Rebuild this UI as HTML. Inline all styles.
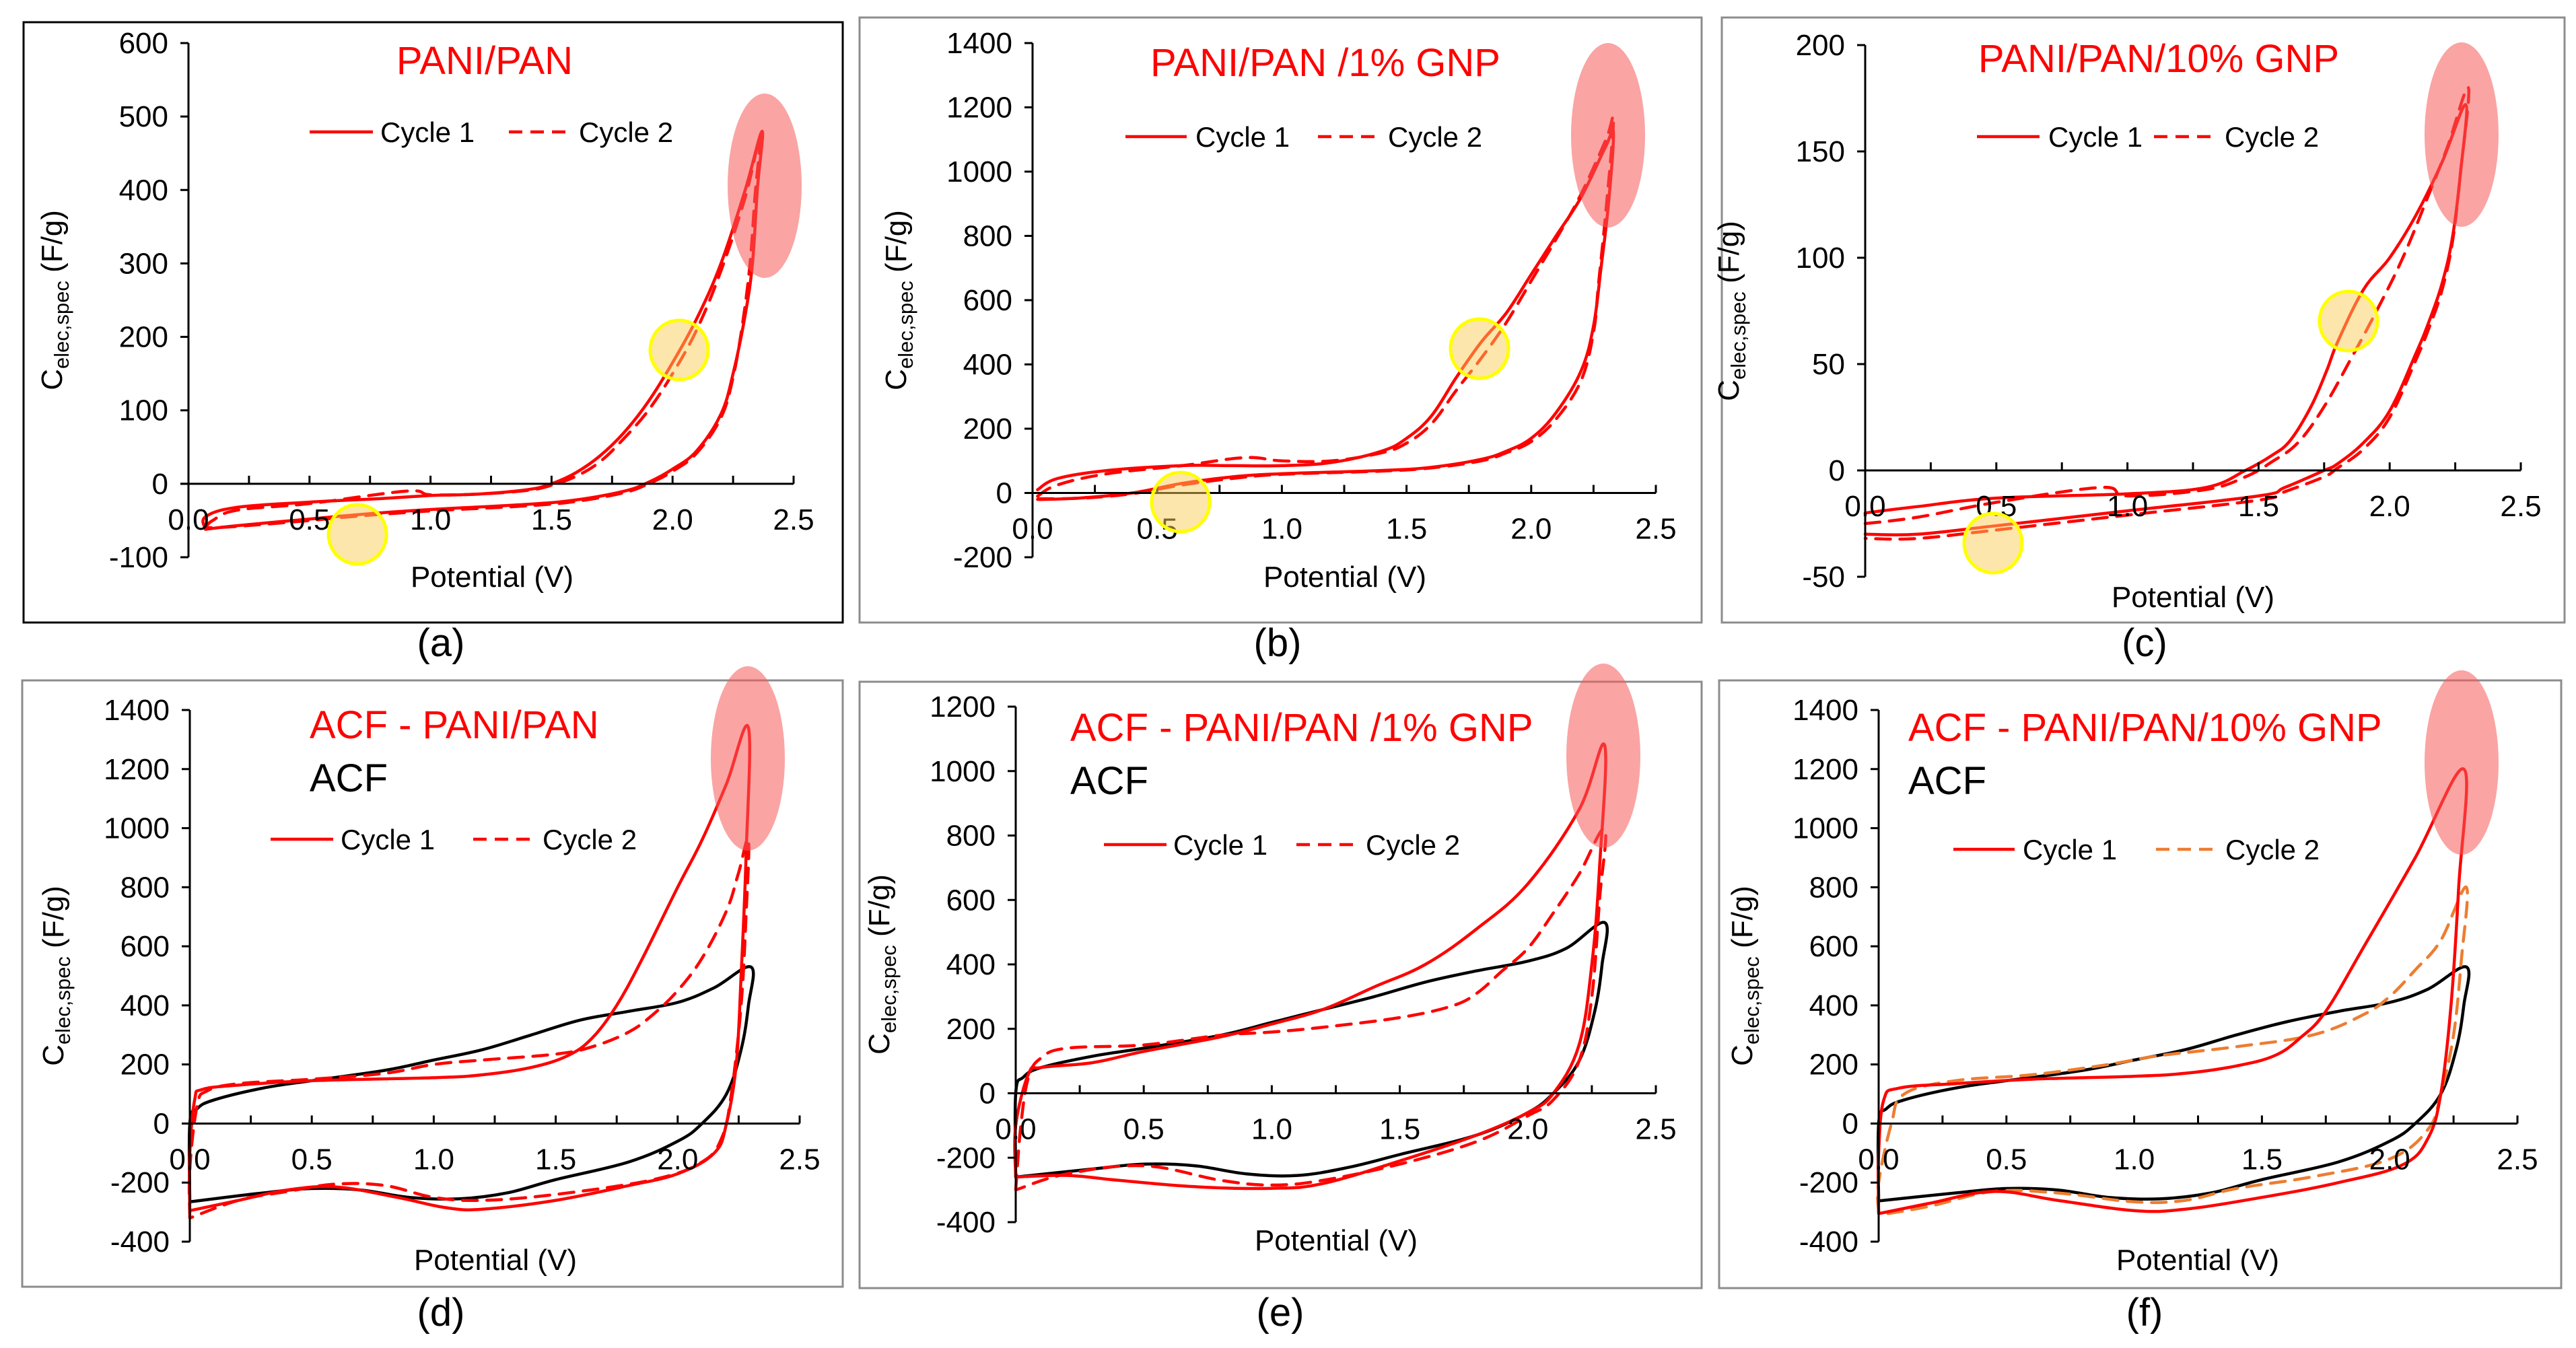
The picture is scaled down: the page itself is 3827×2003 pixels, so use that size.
<!DOCTYPE html>
<html><head><meta charset="utf-8">
<style>
html,body{margin:0;padding:0;background:#fff;}
svg{display:block;font-family:"Liberation Sans",Arial,sans-serif;}
</style></head>
<body>
<svg id="fig" width="3827" height="2003" viewBox="0 0 3827 2003" xmlns="http://www.w3.org/2000/svg">
<rect x="0" y="0" width="3827" height="2003" fill="#fff"/>
</svg>
<script>
// ---------- data (Potential V, C F/g) ----------
const xTicks = [0.0, 0.5, 1.0, 1.5, 2.0, 2.5];
const xTickLabels = ["0.0","0.5","1.0","1.5","2.0","2.5"];
const aYTicks = [-100,0,100,200,300,400,500,600];
const bYTicks = [-200,0,200,400,600,800,1000,1200,1400];
const cYTicks = [-50,0,50,100,150,200];
const dYTicks = [-400,-200,0,200,400,600,800,1000,1200,1400];
const eYTicks = [-400,-200,0,200,400,600,800,1000,1200];
const fYTicks = [-400,-200,0,200,400,600,800,1000,1200,1400];

const aCycle1 = [[0.07,-62],[0.07,-45],[0.2,-32],[0.5,-25],[0.8,-20],[1.0,-16],[1.2,-14],[1.4,-8],[1.5,0],[1.6,15],[1.7,38],[1.8,70],[1.9,112],[2.0,165],[2.1,225],[2.2,300],[2.3,400],[2.37,480],[2.35,400],[2.33,300],[2.3,230],[2.25,150],[2.2,95],[2.1,45],[2.0,20],[1.9,2],[1.8,-10],[1.6,-22],[1.4,-28],[1.0,-35],[0.7,-42],[0.5,-48],[0.2,-57],[0.07,-62]];
const aCycle2 = [[0.07,-60],[0.1,-50],[0.2,-36],[0.5,-27],[0.9,-10],[1.0,-15],[1.2,-14],[1.4,-9],[1.5,-2],[1.6,10],[1.7,30],[1.8,62],[1.9,100],[2.0,150],[2.1,210],[2.2,290],[2.3,390],[2.36,470],[2.34,390],[2.32,300],[2.29,220],[2.25,145],[2.2,90],[2.1,42],[2.0,17],[1.9,0],[1.8,-12],[1.6,-24],[1.4,-30],[1.0,-37],[0.7,-44],[0.5,-50],[0.2,-58],[0.07,-60]];

const bCycle1 = [[0.02,10],[0.1,45],[0.3,70],[0.6,85],[0.8,85],[1.0,85],[1.2,95],[1.4,130],[1.5,170],[1.6,240],[1.7,360],[1.8,470],[1.9,560],[2.0,680],[2.1,800],[2.2,920],[2.3,1080],[2.33,1120],[2.31,900],[2.28,700],[2.25,520],[2.2,380],[2.1,250],[2.0,170],[1.9,130],[1.8,105],[1.6,80],[1.4,70],[1.0,60],[0.8,50],[0.6,30],[0.4,0],[0.2,-15],[0.05,-20],[0.02,-20]];
const bCycle2 = [[0.02,-10],[0.1,25],[0.3,60],[0.6,85],[0.85,110],[1.0,100],[1.2,100],[1.4,125],[1.5,155],[1.6,215],[1.7,320],[1.8,420],[1.9,530],[2.0,660],[2.1,790],[2.2,930],[2.3,1100],[2.33,1160],[2.3,880],[2.27,650],[2.25,500],[2.2,350],[2.1,230],[2.0,160],[1.9,125],[1.8,100],[1.6,78],[1.4,68],[1.0,58],[0.8,45],[0.6,25],[0.4,-2],[0.2,-16],[0.02,-18]];

const cCycle1 = [[0,-20],[0.2,-17],[0.5,-13],[1.0,-11],[1.3,-8],[1.45,0],[1.55,7],[1.62,14],[1.7,30],[1.76,47],[1.8,60],[1.9,85],[2.0,100],[2.1,120],[2.2,145],[2.29,172],[2.27,140],[2.24,110],[2.2,88],[2.15,70],[2.1,55],[2.0,28],[1.9,13],[1.8,3],[1.75,0],[1.6,-8],[1.5,-12],[1.0,-19],[0.5,-26],[0.2,-30],[0,-30]];
const cCycle2 = [[0,-25],[0.2,-22],[0.5,-15],[0.9,-8],[1.0,-12],[1.3,-9],[1.45,-3],[1.55,4],[1.65,13],[1.75,30],[1.85,52],[1.95,75],[2.05,100],[2.15,130],[2.22,152],[2.3,180],[2.27,140],[2.24,108],[2.2,85],[2.15,67],[2.1,52],[2.0,25],[1.9,10],[1.8,1],[1.75,-3],[1.6,-10],[1.5,-14],[1.0,-21],[0.5,-28],[0.2,-32],[0,-32]];

const dCycle1 = [[0.0,-300],[0.0,-100],[0.02,80],[0.05,115],[0.2,130],[0.5,145],[1.0,155],[1.2,165],[1.4,190],[1.55,230],[1.65,290],[1.75,400],[1.85,550],[2.0,800],[2.1,960],[2.2,1150],[2.29,1340],[2.28,900],[2.26,500],[2.24,200],[2.2,0],[2.15,-100],[2.0,-170],[1.8,-210],[1.5,-260],[1.2,-290],[1.05,-285],[0.85,-250],[0.6,-215],[0.4,-225],[0.2,-260],[0.0,-295]];
const dCycle2 = [[0,-320],[0.0,-150],[0.03,60],[0.07,110],[0.2,135],[0.5,150],[0.8,170],[1.0,200],[1.2,215],[1.5,235],[1.65,260],[1.8,310],[1.9,370],[2.0,450],[2.1,560],[2.2,720],[2.25,850],[2.29,960],[2.28,700],[2.26,400],[2.22,100],[2.18,-50],[2.1,-130],[1.9,-190],[1.5,-240],[1.2,-260],[1.0,-250],[0.8,-210],[0.6,-205],[0.4,-230],[0.2,-260],[0.0,-320]];
const dACF = [[0,-270],[0,0],[0.03,50],[0.1,80],[0.3,120],[0.5,145],[0.8,180],[1.0,215],[1.2,250],[1.4,300],[1.6,350],[1.8,380],[2.0,410],[2.15,460],[2.3,530],[2.29,400],[2.26,250],[2.2,100],[2.1,0],[2.0,-60],[1.8,-130],[1.5,-190],[1.3,-235],[1.1,-255],[0.9,-250],[0.7,-225],[0.5,-220],[0.3,-235],[0.0,-265]];

const eCycle1 = [[0,-260],[0,-100],[0.05,60],[0.1,80],[0.3,95],[0.5,130],[0.8,175],[1.0,215],[1.2,260],[1.4,330],[1.6,400],[1.8,510],[2.0,650],[2.2,880],[2.3,1080],[2.28,700],[2.25,400],[2.2,150],[2.1,0],[2.0,-60],[1.8,-130],[1.5,-210],[1.2,-280],[1.0,-295],[0.7,-290],[0.4,-270],[0.2,-255],[0.0,-260]];
const eCycle2 = [[0,-300],[0.02,-100],[0.05,50],[0.1,110],[0.2,140],[0.5,150],[0.8,180],[1.0,190],[1.2,205],[1.5,235],[1.7,270],[1.8,310],[1.9,380],[2.0,450],[2.1,560],[2.2,680],[2.3,820],[2.28,600],[2.25,300],[2.2,100],[2.1,-20],[2.0,-70],[1.8,-150],[1.5,-220],[1.2,-270],[1.0,-285],[0.8,-270],[0.5,-225],[0.2,-250],[0.0,-300]];
const eACF = [[0,-260],[0,0],[0.03,50],[0.1,80],[0.3,115],[0.5,140],[0.8,180],[1.0,220],[1.2,260],[1.4,300],[1.6,345],[1.8,380],[2.0,410],[2.15,450],[2.3,530],[2.29,400],[2.26,250],[2.2,100],[2.1,0],[2.0,-60],[1.8,-130],[1.5,-190],[1.3,-230],[1.1,-255],[0.9,-250],[0.7,-225],[0.5,-220],[0.3,-235],[0.0,-260]];

const fCycle1 = [[0,-305],[0,-100],[0.02,80],[0.08,120],[0.3,135],[0.6,150],[1.0,160],[1.2,170],[1.4,195],[1.55,230],[1.65,290],[1.75,380],[1.9,600],[2.1,900],[2.29,1200],[2.27,800],[2.24,400],[2.2,100],[2.15,-50],[2.05,-140],[1.8,-200],[1.5,-250],[1.2,-290],[1.0,-295],[0.7,-260],[0.45,-230],[0.2,-270],[0.0,-305]];
const fCycle2 = [[0,-300],[0,-200],[0.05,0],[0.1,100],[0.3,145],[0.6,165],[0.9,200],[1.1,230],[1.4,260],[1.7,300],[1.9,370],[2.0,430],[2.1,520],[2.2,620],[2.3,800],[2.28,550],[2.25,300],[2.2,100],[2.15,-20],[2.0,-120],[1.7,-180],[1.4,-220],[1.2,-260],[1.0,-265],[0.7,-235],[0.45,-230],[0.2,-280],[0.0,-310]];
const fACF = [[0,-265],[0,0],[0.03,50],[0.1,80],[0.3,120],[0.5,145],[0.8,180],[1.0,215],[1.2,250],[1.4,300],[1.6,345],[1.8,380],[2.0,410],[2.15,455],[2.3,530],[2.29,400],[2.26,250],[2.2,100],[2.1,0],[2.0,-60],[1.8,-130],[1.5,-190],[1.3,-235],[1.1,-255],[0.9,-250],[0.7,-225],[0.5,-220],[0.3,-235],[0.0,-262]];

// ---------- layout ----------
const NS = "http://www.w3.org/2000/svg";
const svg = document.getElementById('fig');
function mk(tag, attrs, parent){
  const e = document.createElementNS(NS, tag);
  for (const k in attrs) e.setAttribute(k, attrs[k]);
  (parent||svg).appendChild(e);
  return e;
}
function smoothPath(P){
  let d = 'M' + P[0][0].toFixed(1) + ',' + P[0][1].toFixed(1);
  const t = 0.18;
  for (let i=0;i<P.length-1;i++){
    const p0 = P[Math.max(0,i-1)], p1 = P[i], p2 = P[i+1], p3 = P[Math.min(P.length-1,i+2)];
    const c1x = p1[0] + (p2[0]-p0[0])*t, c1y = p1[1] + (p2[1]-p0[1])*t;
    const c2x = p2[0] - (p3[0]-p1[0])*t, c2y = p2[1] - (p3[1]-p1[1])*t;
    d += ' C' + c1x.toFixed(1)+','+c1y.toFixed(1)+' '+c2x.toFixed(1)+','+c2y.toFixed(1)+' '+p2[0].toFixed(1)+','+p2[1].toFixed(1);
  }
  return d;
}
const panels = [
 {id:'a', box:[35,33,1217,892], border:'#000', x0:280, x1:1179, yTopPx:64, yTopV:600, yBotPx:828, yBotV:-100, ticks:aYTicks,
  title:'PANI/PAN', titleX:720, titleY:110, titleAnchor:'middle', acf:false,
  leg:{y:196, l1:[460,554], t1:565, l2:[756,846], t2:860, c2:'#ff0000'},
  xTitle:[731,872], label:[655,975],
  series:[{d:aCycle1,dash:false,c:'#ff0000',n:'cycle-1-curve'},{d:aCycle2,dash:true,c:'#ff0000',n:'cycle-2-curve'}],
  pink:[1136,276], yellow:[[1009,520],[531,794]]},
 {id:'b', box:[1277,26,1251,899], border:'#8c8c8c', x0:1534, x1:2460, yTopPx:64, yTopV:1400, yBotPx:828, yBotV:-200, ticks:bYTicks,
  title:'PANI/PAN /1% GNP', titleX:1969, titleY:113, titleAnchor:'middle', acf:false,
  leg:{y:203, l1:[1672,1763], t1:1776, l2:[1958,2049], t2:2062, c2:'#ff0000'},
  xTitle:[1998,872], label:[1898,975],
  series:[{d:bCycle1,dash:false,c:'#ff0000',n:'cycle-1-curve'},{d:bCycle2,dash:true,c:'#ff0000',n:'cycle-2-curve'}],
  pink:[2389,201], yellow:[[2198,518],[1754,746]]},
 {id:'c', box:[2558,26,1252,899], border:'#8c8c8c', x0:2771, x1:3745, yTopPx:67, yTopV:200, yBotPx:857, yBotV:-50, ticks:cYTicks,
  title:'PANI/PAN/10% GNP', titleX:3207, titleY:107, titleAnchor:'middle', acf:false,
  leg:{y:203, l1:[2937,3030], t1:3043, l2:[3200,3290], t2:3305, c2:'#ff0000'},
  xTitle:[3258,902], label:[3186,975],
  series:[{d:cCycle1,dash:false,c:'#ff0000',n:'cycle-1-curve'},{d:cCycle2,dash:true,c:'#ff0000',n:'cycle-2-curve'}],
  pink:[3657,200], yellow:[[3489,477],[2961,807]]},
 {id:'d', box:[33,1011,1219,901], border:'#8c8c8c', x0:282, x1:1188, yTopPx:1055, yTopV:1400, yBotPx:1845, yBotV:-400, ticks:dYTicks,
  title:'ACF - PANI/PAN', titleX:460, titleY:1097, titleAnchor:'start', acf:true,
  leg:{y:1247, l1:[402,495], t1:506, l2:[703,794], t2:806, c2:'#ff0000'},
  xTitle:[736,1887], label:[655,1970],
  series:[{d:dACF,dash:false,c:'#000',n:'acf-curve'},{d:dCycle2,dash:true,c:'#ff0000',n:'cycle-2-curve'},{d:dCycle1,dash:false,c:'#ff0000',n:'cycle-1-curve'}],
  pink:[1111,1127], yellow:[]},
 {id:'e', box:[1277,1013,1251,901], border:'#8c8c8c', x0:1509, x1:2460, yTopPx:1050, yTopV:1200, yBotPx:1816, yBotV:-400, ticks:eYTicks,
  title:'ACF - PANI/PAN /1% GNP', titleX:1590, titleY:1101, titleAnchor:'start', acf:true,
  leg:{y:1255, l1:[1640,1733], t1:1743, l2:[1926,2017], t2:2029, c2:'#ff0000'},
  xTitle:[1985,1858], label:[1902,1970],
  series:[{d:eACF,dash:false,c:'#000',n:'acf-curve'},{d:eCycle2,dash:true,c:'#ff0000',n:'cycle-2-curve'},{d:eCycle1,dash:false,c:'#ff0000',n:'cycle-1-curve'}],
  pink:[2382,1123], yellow:[]},
 {id:'f', box:[2554,1011,1251,903], border:'#8c8c8c', x0:2791, x1:3740, yTopPx:1055, yTopV:1400, yBotPx:1845, yBotV:-400, ticks:fYTicks,
  title:'ACF - PANI/PAN/10% GNP', titleX:2835, titleY:1101, titleAnchor:'start', acf:true,
  leg:{y:1262, l1:[2902,2993], t1:3005, l2:[3203,3294], t2:3306, c2:'#ed7d31'},
  xTitle:[3265,1887], label:[3186,1970],
  series:[{d:fACF,dash:false,c:'#000',n:'acf-curve'},{d:fCycle2,dash:true,c:'#ed7d31',n:'cycle-2-curve'},{d:fCycle1,dash:false,c:'#ff0000',n:'cycle-1-curve'}],
  pink:[3657,1133], yellow:[]}
];

panels.forEach(p=>{
  const g = mk('g',{});
  
  
  const xs = v => p.x0 + (v/2.5)*(p.x1-p.x0);
  const ys = v => p.yTopPx + (p.yTopV - v)/(p.yTopV - p.yBotV)*(p.yBotPx - p.yTopPx);
  const box = mk('rect',{x:p.box[0],y:p.box[1],width:p.box[2],height:p.box[3],fill:'none',stroke:p.border,'stroke-width':3},g);
  
  
  const zy = ys(0);
  // series
  p.series.forEach(s=>{
    const P = s.d.map(q=>[xs(q[0]), ys(q[1])]);
    const pl = mk('path',{d:smoothPath(P),fill:'none',stroke:s.c,'stroke-width':4.5,'stroke-linejoin':'round','stroke-linecap':'round'},g);
    if (s.dash) pl.setAttribute('stroke-dasharray','22 14');
    
    
  });
  // axes
  const ya = mk('line',{x1:p.x0,y1:ys(p.yTopV),x2:p.x0,y2:ys(p.yBotV),stroke:'#000','stroke-width':3},g);
  
  
  const xa = mk('line',{x1:p.x0-12,y1:zy,x2:p.x1,y2:zy,stroke:'#000','stroke-width':3},g);
  
  
  for (let v=0.25; v<=2.5001; v+=0.25){
    mk('line',{x1:xs(v),y1:zy,x2:xs(v),y2:zy-12,stroke:'#000','stroke-width':3},g);
  }
  xTicks.forEach((v,i)=>{
    const t = mk('text',{x:xs(v),y:zy+68,'font-size':44,'text-anchor':'middle',fill:'#000'},g);
    t.textContent = xTickLabels[i];
    
    
  });
  p.ticks.forEach(v=>{
    mk('line',{x1:p.x0-12,y1:ys(v),x2:p.x0,y2:ys(v),stroke:'#000','stroke-width':3},g);
    const t = mk('text',{x:p.x0-30,y:ys(v)+15,'font-size':44,'text-anchor':'end',fill:'#000'},g);
    t.textContent = String(v);
    
    
  });
  // axis titles
  const xt = mk('text',{x:p.xTitle[0],y:p.xTitle[1],'font-size':44,'text-anchor':'middle',fill:'#000'},g);
  xt.textContent = 'Potential (V)';
  
  
  const cy = (ys(p.yTopV)+ys(p.yBotV))/2, cx = p.x0-188;
  const yt = mk('text',{x:cx,y:cy,'font-size':44,'text-anchor':'middle',fill:'#000',transform:'rotate(-90 '+cx+' '+cy+')'},g);
  
  
  const t1 = mk('tspan',{},yt); t1.textContent='C';
  const t2 = mk('tspan',{'font-size':31,dy:10},yt); t2.textContent='elec,spec';
  const t3 = mk('tspan',{dy:-10},yt); t3.textContent=' (F/g)';
  // highlights
  const pk = mk('ellipse',{cx:p.pink[0],cy:p.pink[1],rx:55,ry:137,fill:'rgba(245,90,90,0.55)'},g);
  
  
  p.yellow.forEach(c=>{
    const e = mk('ellipse',{cx:c[0],cy:c[1],rx:43,ry:44,fill:'rgba(252,205,90,0.5)',stroke:'#ffff00','stroke-width':5},g);
    
    
  });
  // title
  const tt = mk('text',{x:p.titleX,y:p.titleY,'font-size':58,'text-anchor':p.titleAnchor,fill:'#ff0000'},g);
  tt.textContent = p.title;
  
  
  if (p.acf){
    const at = mk('text',{x:p.titleX,y:p.titleY+79,'font-size':58,fill:'#000'},g);
    at.textContent = 'ACF';
    
    
  }
  // legend
  const L = p.leg;
  const lg = mk('g',{},g);
  
  
  mk('line',{x1:L.l1[0],y1:L.y,x2:L.l1[1],y2:L.y,stroke:'#ff0000','stroke-width':4.5},lg);
  const lt1 = mk('text',{x:L.t1,y:L.y+15,'font-size':42,fill:'#000'},lg);
  lt1.textContent='Cycle 1';
  
  
  mk('line',{x1:L.l2[0],y1:L.y,x2:L.l2[1],y2:L.y,stroke:L.c2,'stroke-width':4.5,'stroke-dasharray':'20 12'},lg);
  const lt2 = mk('text',{x:L.t2,y:L.y+15,'font-size':42,fill:'#000'},lg);
  lt2.textContent='Cycle 2';
  
  
  // panel label
  const pl = mk('text',{x:p.label[0],y:p.label[1],'font-size':58,'text-anchor':'middle',fill:'#000'},g);
  pl.textContent = '('+p.id+')';
  
  
});
</script>
</body></html>
